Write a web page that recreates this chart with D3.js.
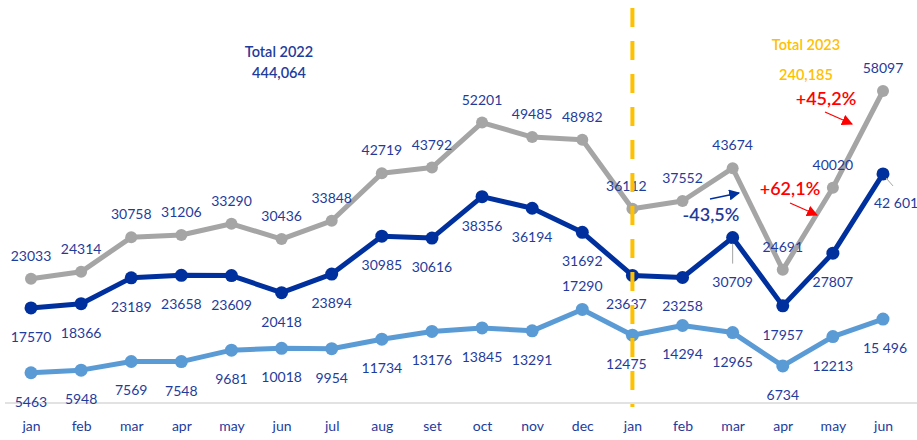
<!DOCTYPE html>
<html>
<head>
<meta charset="utf-8">
<script src="https://cdn.jsdelivr.net/npm/d3@7/dist/d3.min.js"></script>
<style>
  body { margin: 0; background: #fff; }
  svg { display: block; }
  text { font-family: Lato, "Open Sans", sans-serif; }
</style>
</head>
<body>
<svg id="chart" width="917" height="440"></svg>
<script>
// Monthly figures, Jan 2022 – Jun 2023
const months = ["jan","feb","mar","apr","may","jun","jul","aug","set","oct","nov","dec",
                "jan","feb","mar","apr","may","jun"];
const totalSeries = [23033, 24314, 30758, 31206, 33290, 30436, 33848, 42719, 43792, 52201, 49485, 48982,
                     36112, 37552, 43674, 24691, 40020, 58097];
const seriesOne   = [17570, 18366, 23189, 23658, 23609, 20418, 23894, 30985, 30616, 38356, 36194, 31692,
                     23637, 23258, 30709, 17957, 27807, 42601];
const seriesTwo   = [5463, 5948, 7569, 7548, 9681, 10018, 9954, 11734, 13176, 13845, 13291, 17290,
                     12475, 14294, 12965, 6734, 12213, 15496];
const yearTitles  = ["Total 2022", "Total 2023"];
const yearTotals  = ["444,064", "240,185"];

const W = 917, H = 440;
const svg = d3.select("#chart");

const x = d3.scaleLinear().domain([0, months.length - 1]).range([31, 883]);
const y = d3.scaleLinear().domain([0, 58097]).range([402, 91]);

const labelColor = "#1f3c9c";
const gold = "#ffc000";
const red = "#ff0000";

// arrow heads
const defs = svg.append("defs");
function arrowHead(id, color) {
  defs.append("marker").attr("id", id)
    .attr("viewBox", "0 0 10 10").attr("refX", 9).attr("refY", 5)
    .attr("markerWidth", 11).attr("markerHeight", 11)
    .attr("markerUnits", "userSpaceOnUse")
    .attr("orient", "auto")
    .append("path").attr("d", "M0,0 L10,5 L0,10 z").attr("fill", color);
}
arrowHead("arrRed", red);
arrowHead("arrBlue", "#00309e");

// baseline + month axis
const axis = d3.axisBottom(x)
  .tickValues(d3.range(months.length))
  .tickFormat(i => months[i])
  .tickSize(0)
  .tickPadding(0);
const gAxis = svg.append("g").attr("transform", "translate(0,403)").call(axis);
gAxis.select(".domain").remove();
gAxis.selectAll("text")
  .attr("y", 28).attr("dy", 0)
  .attr("fill", labelColor)
  .style("font-size", "14px")
  .style("font-family", "Lato, 'Open Sans', sans-serif");
svg.append("line").attr("x1", 5).attr("x2", W).attr("y1", 403).attr("y2", 403)
  .attr("stroke", "#d9d9d9").attr("stroke-width", 1.5);

const series = [
  { values: totalSeries, color: "#a5a5a5", r: 6,   place: "above", spaced: false },
  { values: seriesOne,   color: "#00309e", r: 6.5, place: "below", spaced: true },
  { values: seriesTwo,   color: "#5b9bd5", r: 6.5, place: "below", spaced: true }
];

const line = d3.line().x((d, i) => x(i)).y(d => y(d));

series.forEach(s => {
  svg.append("path").datum(s.values)
    .attr("d", line).attr("fill", "none")
    .attr("stroke", s.color).attr("stroke-width", 5)
    .attr("stroke-linejoin", "round");
  svg.append("g").selectAll("circle").data(s.values).join("circle")
    .attr("cx", (d, i) => x(i)).attr("cy", d => y(d))
    .attr("r", s.r).attr("fill", s.color);
});

// leader lines for moved labels
svg.append("line").attr("x1", x(14)).attr("x2", x(14))
  .attr("y1", y(seriesOne[14]) + 6).attr("y2", y(seriesOne[14]) + 26)
  .attr("stroke", "#a5a5a5").attr("stroke-width", 1);
svg.append("line").attr("x1", x(17) + 3).attr("x2", x(17) + 10)
  .attr("y1", y(seriesOne[17]) + 4).attr("y2", y(seriesOne[17]) + 12)
  .attr("stroke", "#a5a5a5").attr("stroke-width", 1);

// value labels
function fmt(v, i, spaced) {
  return spaced && i === months.length - 1 ? d3.format(",")(v).replace(",", " ") : String(v);
}
const labelShift = {
  0: { 12: [-6, 0] },
  1: { 12: [-6, 0], 14: [0, 15], 17: [0, 0, "start", -9] },
  2: { 11: [0, -52], 12: [-6, 0], 17: [2, 0] }
};
series.forEach((s, si) => {
  s.values.forEach((v, i) => {
    const sh = (labelShift[si] && labelShift[si][i]) || [0, 0];
    const baseDy = s.place === "above" ? -18 : 34;
    let tx = x(i) + sh[0];
    let anchor = "middle";
    if (sh[2]) { anchor = sh[2]; tx = x(i) + sh[3]; }
    svg.append("text")
      .attr("x", tx).attr("y", y(v) + baseDy + sh[1])
      .attr("text-anchor", anchor)
      .attr("fill", labelColor)
      .style("font-size", "14px")
      .text(fmt(v, i, s.spaced));
  });
});

// year totals
svg.append("text").attr("x", 279).attr("y", 57).attr("text-anchor", "middle")
  .attr("fill", labelColor).style("font-size", "14.5px").style("font-weight", 600).text(yearTitles[0]);
svg.append("text").attr("x", 279).attr("y", 78).attr("text-anchor", "middle")
  .attr("fill", labelColor).style("font-size", "14.5px").style("font-weight", 600).text(yearTotals[0]);
svg.append("text").attr("x", 806).attr("y", 50).attr("text-anchor", "middle")
  .attr("fill", gold).style("font-size", "14.5px").style("font-weight", 600).text(yearTitles[1]);
svg.append("text").attr("x", 806).attr("y", 80).attr("text-anchor", "middle")
  .attr("fill", gold).style("font-size", "14.5px").style("font-weight", 600).text(yearTotals[1]);

// month-on-month changes of the total
const pct = (a, b) => {
  const p = (totalSeries[b] / totalSeries[a] - 1) * 100;
  return (p > 0 ? "+" : "") + d3.format(".1f")(p).replace(".", ",").replace("−", "-") + "%";
};
svg.append("text").attr("x", 711).attr("y", 221).attr("text-anchor", "middle")
  .attr("fill", "#1f3c9c").style("font-size", "18px").style("font-weight", 600).text(pct(14, 15));
svg.append("line").attr("x1", 710).attr("y1", 199).attr("x2", 739).attr("y2", 193)
  .attr("stroke", "#00309e").attr("stroke-width", 1.5).attr("marker-end", "url(#arrBlue)");

svg.append("text").attr("x", 790).attr("y", 195).attr("text-anchor", "middle")
  .attr("fill", red).style("font-size", "18px").style("font-weight", 600).text(pct(15, 16));
svg.append("line").attr("x1", 790).attr("y1", 203).attr("x2", 817).attr("y2", 215)
  .attr("stroke", red).attr("stroke-width", 1.2).attr("marker-end", "url(#arrRed)");

svg.append("text").attr("x", 826).attr("y", 105).attr("text-anchor", "middle")
  .attr("fill", red).style("font-size", "18px").style("font-weight", 600).text(pct(16, 17));
svg.append("line").attr("x1", 825).attr("y1", 112).attr("x2", 852).attr("y2", 124)
  .attr("stroke", red).attr("stroke-width", 1.2).attr("marker-end", "url(#arrRed)");

// year divider
svg.append("line").attr("x1", x(12)).attr("x2", x(12)).attr("y1", 8).attr("y2", 407)
  .attr("stroke", gold).attr("stroke-width", 4)
  .attr("stroke-dasharray", "19,14");
</script>
</body>
</html>
